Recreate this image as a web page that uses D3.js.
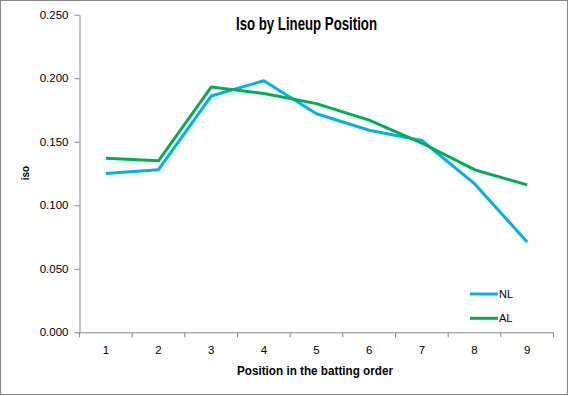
<!DOCTYPE html>
<html>
<head>
<meta charset="utf-8">
<script src="https://cdn.jsdelivr.net/npm/d3@7"></script>
<style>
  body { margin: 0; background: #fff; }
  svg { display: block; font-family: "Liberation Sans", Arial, sans-serif; }
</style>
</head>
<body>
<div id="chart"></div>
<script>
// batting order positions
var positions = [1, 2, 3, 4, 5, 6, 7, 8, 9]
var nl = [0.125, 0.128, 0.186, 0.198, 0.172, 0.159, 0.151, 0.117, 0.071]
var al = [0.137, 0.135, 0.193, 0.188, 0.180, 0.167, 0.149, 0.128, 0.116]
var yTicks = [0, 0.05, 0.1, 0.15, 0.2, 0.25]

var series = [
  { name: "NL", values: nl, color: "#00B0F0" },
  { name: "AL", values: al, color: "#00B050" }
]

var width = 569
var height = 396
var margin = { top: 14.7, right: 15.5, bottom: 63.7, left: 79.5 }

var svg = d3.select("#chart")
  .append("svg")
  .attr("width", width)
  .attr("height", height)

// outer border
svg.append("rect")
  .attr("x", 0.5).attr("y", 0.5)
  .attr("width", width - 2).attr("height", height - 2)
  .attr("fill", "#fff")
  .attr("stroke", "#868686")
  .attr("stroke-width", 1)

var x = d3.scaleBand()
  .domain(positions)
  .range([margin.left, width - margin.right])

var y = d3.scaleLinear()
  .domain([0, 0.25])
  .range([height - margin.bottom, margin.top])

// y axis
var yAxis = svg.append("g")
  .attr("transform", `translate(${margin.left},0)`)
  .call(d3.axisLeft(y).tickValues(yTicks).tickFormat(d3.format(".3f")).tickSize(5).tickSizeOuter(0))

yAxis.select(".domain").attr("stroke", "#868686")
yAxis.selectAll(".tick line").attr("stroke", "#868686")
yAxis.selectAll(".tick text")
  .attr("x", -11)
  .attr("fill", "#000")
  .style("font-size", "11.5px")

// x axis, ticks between categories
var xAxis = svg.append("g")
  .attr("transform", `translate(0,${y(0)})`)
  .call(d3.axisBottom(x).tickSize(0).tickSizeOuter(0))

xAxis.select(".domain").attr("stroke", "#868686")
xAxis.selectAll(".tick text")
  .attr("y", 14)
  .attr("fill", "#000")
  .style("font-size", "11.5px")

svg.append("g")
  .selectAll("line")
  .data(positions.concat([null]))
  .join("line")
    .attr("x1", (d, i) => margin.left + i * x.step())
    .attr("x2", (d, i) => margin.left + i * x.step())
    .attr("y1", y(0))
    .attr("y2", y(0) + 5)
    .attr("stroke", "#868686")

var line = d3.line()
  .x((d, i) => x(positions[i]) + x.bandwidth() / 2)
  .y(d => y(d))

svg.append("g")
  .selectAll("path")
  .data(series)
  .join("path")
    .attr("fill", "none")
    .attr("stroke", d => d.color)
    .attr("stroke-width", 3)
    .attr("stroke-linejoin", "round")
    .attr("d", d => line(d.values))

// title
svg.append("text")
  .attr("x", 236)
  .attr("y", 30)
  .attr("textLength", 141)
  .attr("lengthAdjust", "spacingAndGlyphs")
  .style("font-size", "18px")
  .style("font-weight", "bold")
  .text("Iso by Lineup Position")

// axis titles
svg.append("text")
  .attr("x", 237)
  .attr("y", 375)
  .attr("textLength", 156)
  .attr("lengthAdjust", "spacingAndGlyphs")
  .style("font-size", "12px")
  .style("font-weight", "bold")
  .text("Position in the batting order")

svg.append("text")
  .attr("transform", "translate(29,173) rotate(-90)")
  .attr("text-anchor", "middle")
  .style("font-size", "10px")
  .style("font-weight", "bold")
  .text("iso")

// legend
var legend = svg.append("g")
  .selectAll("g")
  .data(series)
  .join("g")
    .attr("transform", (d, i) => `translate(470,${294 + i * 24.3})`)

legend.append("line")
  .attr("x1", 0).attr("x2", 28)
  .attr("stroke", d => d.color)
  .attr("stroke-width", 3)

legend.append("text")
  .attr("x", 29)
  .attr("y", 4)
  .style("font-size", "11px")
  .text(d => d.name)
</script>
</body>
</html>
